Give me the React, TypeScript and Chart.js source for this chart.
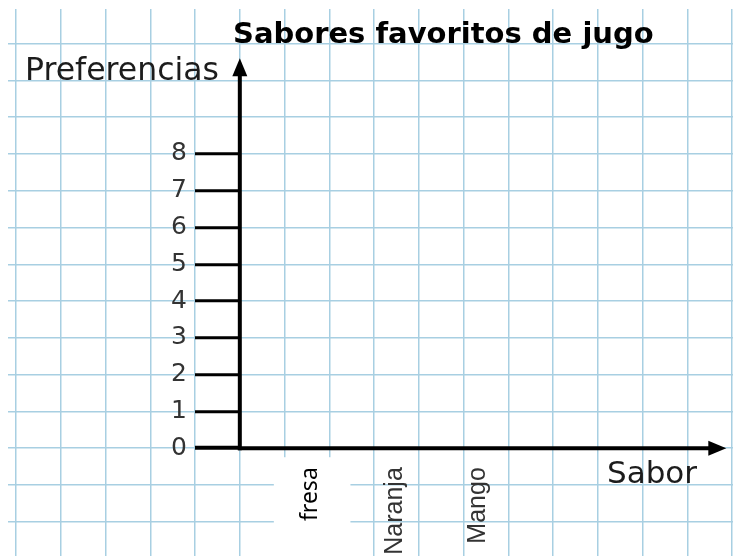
import React, { useEffect, useRef } from 'react';
import { Chart, registerables } from 'chart.js';

Chart.register(...registerables);

// ---- content ----
const chartTitle = 'Sabores favoritos de jugo';
const yAxisName = 'Preferencias';
const xAxisName = 'Sabor';
const categories = ['fresa', 'Naranja', 'Mango'];
// Blank worksheet chart: no preferences have been drawn yet
const preferencias: (number | null)[] = [null, null, null];
const yTickLabels = ['0', '1', '2', '3', '4', '5', '6', '7', '8'];

// ---- style / layout ----
const GRID = 'rgb(168, 207, 226)';
const Y_MIN = -2.93;
const Y_MAX = 11.94;
const X_MIN = -5.18;
const X_MAX = 11.02;
const XC_MIN = -3.47;
const XC_MAX = 5.24;
const Y_LABEL_AT = -1.18; // x value where the y tick labels end

const zeroFit = (s: any) => {
  if (s.isHorizontal()) s.height = 0; else s.width = 0;
  s.paddingTop = 0; s.paddingBottom = 0; s.paddingLeft = 0; s.paddingRight = 0;
};

const isLabelled = (v: any) => yTickLabels.includes(String(v));

const paperPlugin = {
  id: 'paperAxes',
  afterDraw(chart: any) {
    const { ctx, scales } = chart;
    const xs = scales.x;
    const ys = scales.y;
    const x0 = xs.getPixelForValue(0);
    const y0 = ys.getPixelForValue(0);
    const yTip = ys.getPixelForValue(10.6);
    const xTip = xs.getPixelForValue(10.87);
    const head = 18;
    const half = 7.5;
    ctx.save();
    ctx.strokeStyle = '#000';
    ctx.fillStyle = '#000';
    ctx.lineWidth = 4;
    ctx.lineCap = 'butt';
    // y axis
    ctx.beginPath();
    ctx.moveTo(x0, y0 + 2);
    ctx.lineTo(x0, yTip + head - 2);
    ctx.stroke();
    ctx.beginPath();
    ctx.moveTo(x0, yTip);
    ctx.lineTo(x0 - half, yTip + head);
    ctx.lineTo(x0 + half, yTip + head);
    ctx.closePath();
    ctx.fill();
    // x axis
    ctx.beginPath();
    ctx.moveTo(x0 - 2, y0);
    ctx.lineTo(xTip - head + 2, y0);
    ctx.stroke();
    ctx.beginPath();
    ctx.moveTo(xTip, y0);
    ctx.lineTo(xTip - head, y0 - half);
    ctx.lineTo(xTip - head, y0 + half);
    ctx.closePath();
    ctx.fill();
    // texts
    ctx.textAlign = 'left';
    ctx.textBaseline = 'alphabetic';
    ctx.fillStyle = '#000';
    ctx.font = 'bold 29px "DejaVu Sans"';
    ctx.fillText(chartTitle, 233, 43);
    ctx.fillStyle = '#1c1c1c';
    ctx.font = '31.5px "DejaVu Sans"';
    ctx.fillText(yAxisName, 25, 80);
    ctx.font = '31px "DejaVu Sans"';
    ctx.fillText(xAxisName, 607, 483);
    ctx.restore();
  },
};

export default function App() {
  const canvasRef = useRef<HTMLCanvasElement | null>(null);

  useEffect(() => {
    const canvas = canvasRef.current;
    if (!canvas) return;
    const chart = new Chart(canvas, {
      type: 'bar',
      data: {
        datasets: [
          {
            label: yAxisName,
            data: categories.map((_, i) => ({ x: i, y: preferencias[i] })) as any,
            xAxisID: 'xc',
            yAxisID: 'y',
            backgroundColor: '#f0a030',
          },
        ],
      },
      options: {
        animation: false,
        responsive: true,
        maintainAspectRatio: false,
        events: [],
        layout: { padding: { left: 8, top: 9, right: 0, bottom: 0 } },
        plugins: {
          legend: { display: false },
          title: { display: false },
          tooltip: { enabled: false },
        },
        scales: {
          x: {
            type: 'linear',
            axis: 'x',
            position: { y: 0 } as any,
            min: X_MIN,
            max: X_MAX,
            offset: false,
            bounds: 'ticks',
            ticks: { display: false, stepSize: 1, includeBounds: false, autoSkip: false },
            grid: { color: GRID, lineWidth: 1.5, drawTicks: false, offset: false, z: -2 } as any,
            border: { display: false },
            afterBuildTicks: (s: any) => { s.min = X_MIN; s.max = X_MAX; },
            afterFit: zeroFit,
          } as any,
          y: {
            type: 'linear',
            axis: 'y',
            position: { x: 0 } as any,
            min: Y_MIN,
            max: Y_MAX,
            offset: false,
            bounds: 'ticks',
            ticks: { display: false, stepSize: 1, includeBounds: false, autoSkip: false },
            grid: {
              color: GRID,
              lineWidth: 1.5,
              offset: false,
              tickLength: 45,
              tickWidth: (c: any) => (c.tick && c.tick.value === 0 ? 4 : 3),
              tickColor: (c: any) => (c.tick && isLabelled(c.tick.value) ? '#000' : 'rgba(0,0,0,0)'),
            },
            border: { display: false },
            afterBuildTicks: (s: any) => { s.min = Y_MIN; s.max = Y_MAX; },
            afterFit: zeroFit,
          } as any,
          yLabels: {
            type: 'linear',
            axis: 'y',
            position: { x: Y_LABEL_AT } as any,
            min: Y_MIN,
            max: Y_MAX,
            offset: false,
            afterBuildTicks: (s: any) => {
              s.ticks = yTickLabels.map((l) => ({ value: Number(l) }));
              s.min = Y_MIN;
              s.max = Y_MAX;
            },
            ticks: {
              autoSkip: false,
              padding: 0,
              color: '#333',
              font: { family: 'DejaVu Sans', size: 25 },
              callback: (v: any) => (isLabelled(v) ? String(v) : ''),
            },
            grid: { display: false },
            border: { display: false },
            afterFit: zeroFit,
          } as any,
          xc: {
            type: 'linear',
            axis: 'x',
            position: { y: 0 } as any,
            min: XC_MIN,
            max: XC_MAX,
            offset: false,
            afterBuildTicks: (s: any) => {
              s.ticks = categories.map((_, i) => ({ value: i }));
              s.min = XC_MIN;
              s.max = XC_MAX;
            },
            ticks: {
              autoSkip: false,
              minRotation: 90,
              maxRotation: 90,
              padding: 11,
              callback: (v: any) => categories[v] ?? '',
              font: (c: any) =>
                c.index === 0
                  ? { family: 'Noto Sans', size: 23 }
                  : { family: 'Liberation Sans', size: 25 },
              color: (c: any) => (c.index === 0 ? '#000' : '#333'),
              showLabelBackdrop: true,
              backdropColor: (c: any) => (c.index === 0 ? '#fff' : 'rgba(255,255,255,0)'),
              backdropPadding: { top: 23, bottom: 26, left: 36, right: 10 },
            } as any,
            grid: { display: false, offset: false },
            border: { display: false },
            afterFit: zeroFit,
          } as any,
        },
      },
      plugins: [paperPlugin as any],
    });
    return () => chart.destroy();
  }, []);

  return (
    <div
      style={{
        position: 'fixed',
        left: 0,
        top: 0,
        width: 733,
        height: 556,
        background: '#fff',
      }}
    >
      <canvas ref={canvasRef} />
    </div>
  );
}
